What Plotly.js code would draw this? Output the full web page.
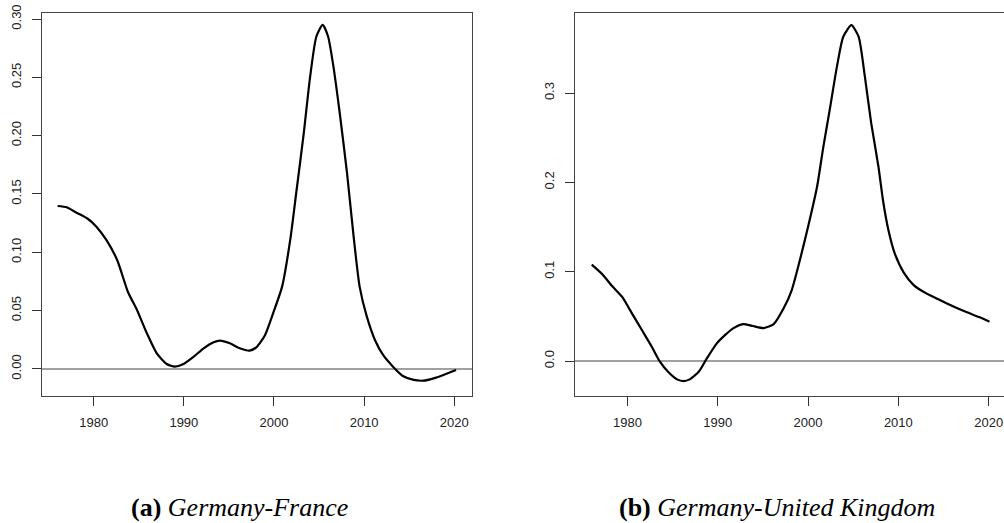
<!DOCTYPE html>
<html>
<head>
<meta charset="utf-8">
<script src="https://cdn.plot.ly/plotly-3.0.1.min.js"></script>
<style>
  html, body { margin: 0; padding: 0; overflow: hidden; background: #fff; }
  #chart { width: 1010px; height: 523px; }
</style>
</head>
<body>
<div id="chart"></div>
<script>
// Panel (a) Germany-France
const yearsFR = [1976.0, 1977.0, 1978.1, 1979.3, 1980.3, 1981.4, 1982.6, 1983.8, 1984.8, 1985.9,
  1987.0, 1988.1, 1989.0, 1989.9, 1991.1, 1992.2, 1993.3, 1994.0, 1995.1, 1996.2,
  1997.3, 1998.1, 1999.0, 1999.9, 2000.9, 2001.8, 2002.5, 2003.3, 2004.0, 2004.7,
  2005.4, 2006.0, 2006.6, 2007.3, 2008.1, 2008.8, 2009.5, 2010.3, 2011.2, 2012.1,
  2013.2, 2014.3, 2015.5, 2016.6, 2017.7, 2018.8, 2020.2];
const valuesFR = [0.1397, 0.1386, 0.134, 0.129, 0.122, 0.1106, 0.0934, 0.066, 0.0506, 0.0306,
  0.0134, 0.0043, 0.002, 0.004, 0.0106, 0.0177, 0.0229, 0.0243, 0.022, 0.0177,
  0.0157, 0.019, 0.029, 0.0477, 0.0706, 0.1106, 0.153, 0.202, 0.25, 0.285,
  0.295, 0.285, 0.259, 0.219, 0.168, 0.116, 0.0706, 0.0449, 0.0249, 0.012,
  0.002, -0.006, -0.0094, -0.010, -0.008, -0.0051, -0.0009];

// Panel (b) Germany-United Kingdom
const yearsUK = [1976.05, 1977.2, 1978.3, 1979.4, 1980.5, 1981.6, 1982.7, 1983.6, 1984.5, 1985.5,
  1986.2, 1986.9, 1987.9, 1988.8, 1989.9, 1990.8, 1991.7, 1992.8, 1993.9, 1995.1,
  1996.2, 1997.3, 1998.2, 1999.1, 2000.0, 2001.0, 2001.7, 2002.4, 2003.2, 2003.9,
  2004.8, 2005.6, 2006.3, 2007.0, 2007.8, 2008.3, 2008.9, 2009.6, 2010.6, 2011.7,
  2013.1, 2014.6, 2016.1, 2017.6, 2019.0, 2020.1];
const valuesUK = [0.108, 0.0974, 0.084, 0.072, 0.0534, 0.0347, 0.016, -0.0007, -0.012, -0.0205,
  -0.0224, -0.0205, -0.012, 0.003, 0.0198, 0.029, 0.0366, 0.0414, 0.0392, 0.0369,
  0.0414, 0.059, 0.0795, 0.113, 0.150, 0.195, 0.240, 0.281, 0.3295, 0.363,
  0.376, 0.363, 0.318, 0.266, 0.2175, 0.180, 0.1466, 0.1205, 0.099, 0.085,
  0.0757, 0.0683, 0.061, 0.0545, 0.049, 0.044];

const xTicks = [1980, 1990, 2000, 2010, 2020];
const yTicksFR = [0, 0.05, 0.10, 0.15, 0.20, 0.25, 0.30];
const yTicksUK = [0, 0.1, 0.2, 0.3];
const captionA = '<b>(a)</b> <i>Germany-France</i>';
const captionB = '<b>(b)</b> <i>Germany-United Kingdom</i>';

const W = 1010, H = 523;
const tickFont = {family: 'Liberation Sans, Arial, sans-serif', size: 13, color: '#222'};

function xAxis(domain, anchor) {
  return {
    domain: domain, anchor: anchor, range: [1974.23, 2022.0],
    tickmode: 'array', tickvals: xTicks, ticktext: xTicks.map(String),
    ticks: 'outside', ticklen: 9, tickwidth: 1, tickcolor: '#333',
    showline: true, mirror: true, linecolor: '#444', linewidth: 1,
    showgrid: false, zeroline: false, tickfont: tickFont, ticklabelstandoff: 6
  };
}
function yAxis(domain, anchor, range, ticks, fmt) {
  return {
    domain: domain, anchor: anchor, range: range,
    tickmode: 'array', tickvals: ticks, tickformat: fmt, tickangle: -90,
    ticks: 'outside', ticklen: 9, tickwidth: 1, tickcolor: '#333',
    showline: true, mirror: true, linecolor: '#444', linewidth: 1,
    showgrid: false, zeroline: true, zerolinecolor: '#a0a0a0', zerolinewidth: 2,
    tickfont: tickFont, ticklabelstandoff: 6
  };
}

const yDom = [(H - 395.7) / H, (H - 12.7) / H];

const traces = [
  {x: yearsFR, y: valuesFR, xaxis: 'x', yaxis: 'y', type: 'scatter', mode: 'lines',
   line: {color: '#000', width: 2.2, shape: 'spline', smoothing: 0.6}, hoverinfo: 'x+y'},
  {x: yearsUK, y: valuesUK, xaxis: 'x2', yaxis: 'y2', type: 'scatter', mode: 'lines',
   line: {color: '#000', width: 2.2, shape: 'spline', smoothing: 0.6}, hoverinfo: 'x+y'}
];

const layout = {
  width: W, height: H,
  margin: {l: 0, r: 0, t: 0, b: 0},
  paper_bgcolor: '#fff', plot_bgcolor: '#fff',
  showlegend: false,
  xaxis: xAxis([41.7 / W, 472.3 / W], 'y'),
  yaxis: yAxis(yDom, 'x', [-0.0229, 0.3054], yTicksFR, '.2f'),
  xaxis2: xAxis([575.3 / W, 1006.7 / W], 'y2'),
  yaxis2: yAxis(yDom, 'x2', [-0.0388, 0.3899], yTicksUK, '.1f'),
  annotations: [
    {text: captionA, xref: 'paper', yref: 'paper', x: 239 / W, y: (H - 507) / H,
     xanchor: 'center', yanchor: 'middle', showarrow: false,
     font: {family: 'Liberation Serif, Times New Roman, serif', size: 26, color: '#000'}},
    {text: captionB, xref: 'paper', yref: 'paper', x: 777 / W, y: (H - 507) / H,
     xanchor: 'center', yanchor: 'middle', showarrow: false,
     font: {family: 'Liberation Serif, Times New Roman, serif', size: 26, color: '#000'}}
  ]
};

Plotly.newPlot('chart', traces, layout, {displayModeBar: false, staticPlot: true});
</script>
</body>
</html>
